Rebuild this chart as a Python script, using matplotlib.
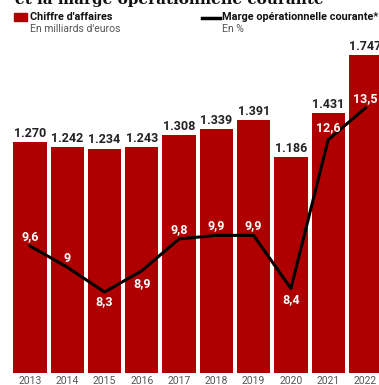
import matplotlib.pyplot as plt

# Data
years = ['2013', '2014', '2015', '2016', '2017', '2018', '2019', '2020', '2021', '2022']
sales = [1.270, 1.242, 1.234, 1.243, 1.308, 1.339, 1.391, 1.186, 1.431, 1.747]
sales_labels = ['1.270', '1.242', '1.234', '1.243', '1.308', '1.339', '1.391', '1.186', '1.431', '1.747']
margin = [9.6, 9.0, 8.3, 8.9, 9.8, 9.9, 9.9, 8.4, 12.6, 13.5]
margin_labels = ['9,6', '9', '8,3', '8,9', '9,8', '9,9', '9,9', '8,4', '12,6', '13,5']
# label offset (points): positive = above the point
margin_offsets = [7, 6, -7, -9, 7, 7, 7, -8, 9, 7]

plt.rcParams['font.family'] = ['Roboto', 'DejaVu Sans']
red = '#ae0000'

fig = plt.figure(figsize=(3.79, 3.85), dpi=100)
ax = fig.add_axes([0, 12 / 385, 1, 333 / 385])
x = list(range(len(years)))

ax.bar(x, sales, width=0.894, color=red, zorder=1)
for xi, v, lab in zip(x, sales, sales_labels):
    ax.annotate(lab, (xi, v), xytext=(0, 1.5), textcoords='offset points',
                ha='center', va='bottom', fontsize=9, fontweight='bold', color='#222222')
ax.set_xlim(-0.805, 9.364)
ax.set_ylim(0, 1.831)
ax.set_xticks(x, years)
ax.tick_params(axis='x', length=0, pad=2, labelsize=7.5, labelcolor='#555555')
ax.set_yticks([])
for s in ax.spines.values():
    s.set_visible(False)

ax2 = ax.twinx()
ax2.plot(x, margin, color='black', lw=2.2, zorder=3)
for xi, v, lab, off in zip(x, margin, margin_labels, margin_offsets):
    ax2.annotate(lab, (xi, v), xytext=(0, off), textcoords='offset points',
                 ha='center', va='center', fontsize=9, fontweight='bold', color='white')
ax2.set_ylim(6.012, 15.42)
ax2.set_yticks([])
for s in ax2.spines.values():
    s.set_visible(False)

# Title, mostly cropped off at the top as in the reference
fig.text(15 / 379, 1 - 7 / 385, 'et la marge opérationnelle courante', family='DejaVu Serif',
         fontweight='bold', fontsize=11, va='bottom', ha='left', color='#111111')

# Legend
fig.patches.append(plt.Rectangle((14 / 379, 1 - 21 / 385), 13 / 379, 8 / 385,
                                 transform=fig.transFigure, color=red))
fig.text(30 / 379, 1 - 17 / 385, "Chiffre d'affaires", fontsize=7.8, fontweight='bold',
         va='center', ha='left', color='#111111')
fig.text(30 / 379, 1 - 29.5 / 385, "En milliards d'euros", fontsize=7.5,
         va='center', ha='left', color='#555555')
fig.lines.append(plt.Line2D([202 / 379, 220 / 379], [1 - 18 / 385, 1 - 18 / 385],
                            transform=fig.transFigure, color='black', lw=2.5))
fig.text(222 / 379, 1 - 17 / 385, 'Marge opérationnelle courante*', fontsize=7.8,
         fontweight='bold', va='center', ha='left', color='#111111')
fig.text(222 / 379, 1 - 29.5 / 385, 'En %', fontsize=7.5,
         va='center', ha='left', color='#555555')

fig.savefig('out.png', dpi=100)
